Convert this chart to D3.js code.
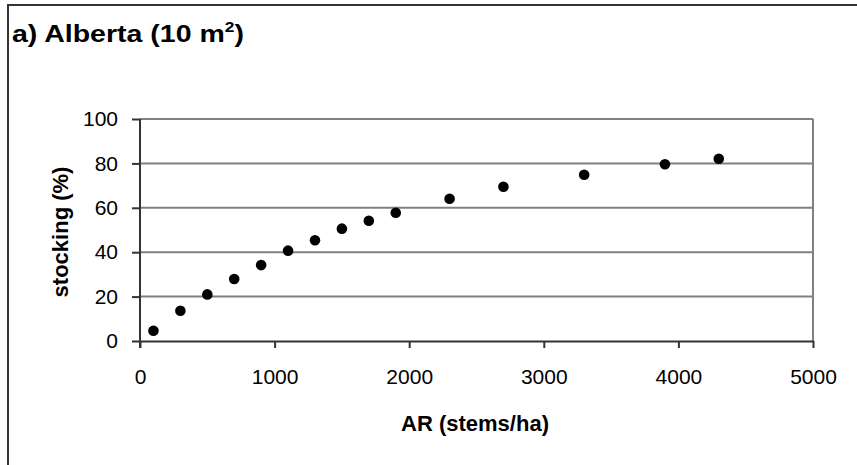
<!DOCTYPE html>
<html>
<head>
<meta charset="utf-8">
<script src="https://cdn.jsdelivr.net/npm/d3@7"></script>
<style>
  body { margin: 0; background: #fff; }
  svg { display: block; font-family: "Liberation Sans", Arial, sans-serif; }
</style>
</head>
<body>
<div id="chart"></div>
<script>
// stems per hectare vs stocking, Alberta 10 m2 plots
const densities = [100, 300, 500, 700, 900, 1100, 1300, 1500, 1700, 1900, 2300, 2700, 3300, 3900, 4300];
const stocking = [4.6, 13.6, 21, 27.9, 34.2, 40.7, 45.4, 50.6, 54.2, 57.8, 64.1, 69.5, 74.9, 79.6, 82.1];
const xTicks = [0, 1000, 2000, 3000, 4000, 5000];
const yTicks = [0, 20, 40, 60, 80, 100];

const width = 857, height = 465;
const plotLeft = 140, plotRight = 813, plotTop = 119, plotBottom = 341;

const svg = d3.select("#chart").append("svg")
    .attr("width", width)
    .attr("height", height);

// outer frame (only top and left show)
svg.append("path")
    .attr("d", `M8,${height} V5 H${width}`)
    .attr("fill", "none")
    .attr("stroke", "#333")
    .attr("stroke-width", 2);

// title is drawn a bit wide in the original, so stretch it horizontally
let title = svg.append("text")
    .attr("transform", "translate(12, 42) scale(1.24, 1)")
    .attr("font-size", 23)
    .attr("font-weight", "bold");
title.append("tspan").text("a) Alberta (10 m");
title.append("tspan").attr("dy", -10).attr("font-size", 14).text("2");
title.append("tspan").attr("dy", 10).text(")");

let x = d3.scaleLinear().domain([0, 5000]).range([plotLeft, plotRight]);
let y = d3.scaleLinear().domain([0, 100]).range([plotBottom, plotTop]);

// horizontal gridlines
svg.append("g").selectAll("line").data(yTicks.slice(1))
    .join("line")
    .attr("x1", plotLeft).attr("x2", plotRight)
    .attr("y1", d => y(d)).attr("y2", d => y(d))
    .attr("stroke", "#808080")
    .attr("stroke-width", 2);

// right edge of plot area
svg.append("line")
    .attr("x1", plotRight).attr("x2", plotRight)
    .attr("y1", plotTop).attr("y2", plotBottom)
    .attr("stroke", "#808080")
    .attr("stroke-width", 2);

let xAxis = svg.append("g").attr("transform", `translate(0, ${plotBottom})`)
    .call(d3.axisBottom(x).tickValues(xTicks).tickFormat(d3.format("d"))
        .tickSize(7).tickSizeOuter(0).tickPadding(21));
let yAxis = svg.append("g").attr("transform", `translate(${plotLeft}, 0)`)
    .call(d3.axisLeft(y).tickValues(yTicks).tickFormat(d3.format("d"))
        .tickSize(8).tickSizeOuter(0).tickPadding(14));

[xAxis, yAxis].forEach(ax => {
    ax.select(".domain").attr("stroke", "#333").attr("stroke-width", 2);
    ax.selectAll(".tick line").attr("stroke", "#333").attr("stroke-width", 2);
    ax.selectAll(".tick text")
        .attr("font-size", 21)
        .attr("fill", "#000")
        .attr("font-family", "'Liberation Sans', Arial, sans-serif");
});
// y axis runs past zero down to the x tick length
yAxis.select(".domain").attr("d", `M0,${plotTop}V${plotBottom + 7}`);

svg.append("g").selectAll("circle").data(densities)
    .join("circle")
    .attr("cx", d => x(d))
    .attr("cy", (d, i) => y(stocking[i]))
    .attr("r", 5.3)
    .attr("fill", "#000");

svg.append("text")
    .attr("x", 475)
    .attr("y", 431)
    .attr("text-anchor", "middle")
    .attr("font-size", 22)
    .attr("font-weight", "bold")
    .text("AR (stems/ha)");

svg.append("text")
    .attr("transform", `translate(68, 232) rotate(-90)`)
    .attr("text-anchor", "middle")
    .attr("font-size", 22)
    .attr("font-weight", "bold")
    .text("stocking (%)");
</script>
</body>
</html>
